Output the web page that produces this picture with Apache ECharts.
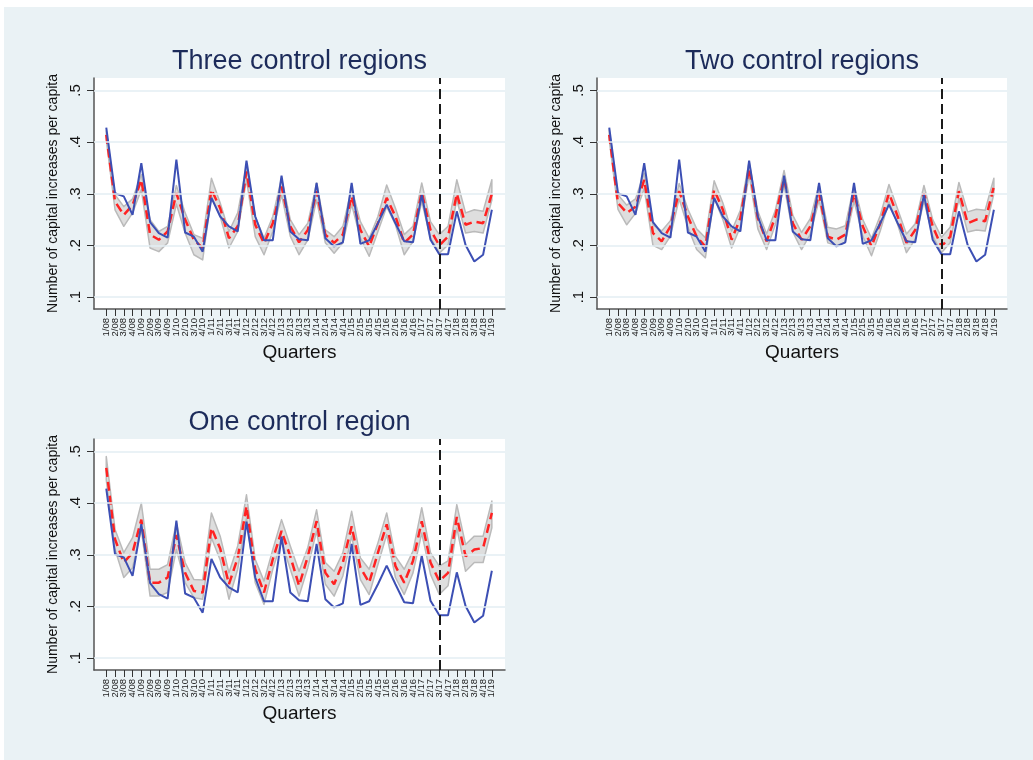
<!DOCTYPE html>
<html lang="en">
<head>
<meta charset="utf-8" />
<title>Capital increases per capita - synthetic control</title>
<style>
    html, body { margin: 0; padding: 0; background: #fff; }
    #bg { position: absolute; left: 4px; top: 7px; width: 1029px; height: 753px; background: #eaf2f5; }
    #main { position: absolute; left: 0; top: 0; width: 1033px; height: 760px; }
</style>
</head>
<body>
<div id="bg"></div>
<div id="main"></div>
<script src="https://cdn.jsdelivr.net/npm/echarts@6/dist/echarts.min.js"></script>
<script type="text/javascript">
    // quarter labels on the x axis
    var quarters = ['1/08','2/08','3/08','4/08','1/09','2/09','3/09','4/09','1/10','2/10','3/10','4/10',
        '1/11','2/11','3/11','4/11','1/12','2/12','3/12','4/12','1/13','2/13','3/13','4/13',
        '1/14','2/14','3/14','4/14','1/15','2/15','3/15','4/15','1/16','2/16','3/16','4/16',
        '1/17','2/17','3/17','4/17','1/18','2/18','3/18','4/18','1/19'];
    var yTicks = [0.1, 0.2, 0.3, 0.4, 0.5];
    var treatIndex = 38;   // 3/17

    // treated region (same in every panel)
    var actual = [0.428,0.301,0.295,0.259,0.359,0.245,0.224,0.215,0.366,0.225,0.217,0.188,0.292,0.256,0.237,0.227,
        0.364,0.256,0.210,0.210,0.335,0.227,0.212,0.210,0.321,0.214,0.198,0.206,0.321,0.203,0.210,0.243,
        0.279,0.243,0.208,0.206,0.298,0.211,0.183,0.183,0.266,0.201,0.169,0.182,0.269];

    // three control regions
    var synth3 = [0.414,0.285,0.259,0.278,0.327,0.221,0.211,0.227,0.301,0.250,0.211,0.195,0.308,0.272,0.214,0.237,
        0.343,0.240,0.204,0.243,0.314,0.237,0.206,0.230,0.305,0.221,0.205,0.221,0.295,0.230,0.198,0.243,
        0.292,0.256,0.205,0.221,0.303,0.230,0.200,0.217,0.300,0.240,0.246,0.243,0.300];
    var up3 = [0.422,0.298,0.275,0.290,0.337,0.250,0.227,0.237,0.316,0.263,0.221,0.214,0.330,0.282,0.227,0.263,
        0.355,0.256,0.214,0.256,0.330,0.250,0.221,0.243,0.321,0.230,0.217,0.237,0.311,0.246,0.214,0.256,
        0.317,0.272,0.221,0.237,0.321,0.246,0.221,0.237,0.327,0.263,0.269,0.266,0.327];
    var lo3 = [0.404,0.269,0.237,0.263,0.308,0.195,0.188,0.205,0.280,0.224,0.182,0.172,0.295,0.256,0.195,0.227,
        0.327,0.217,0.182,0.227,0.298,0.218,0.182,0.211,0.288,0.205,0.185,0.205,0.279,0.214,0.179,0.227,
        0.275,0.240,0.182,0.208,0.285,0.214,0.185,0.201,0.288,0.224,0.227,0.224,0.288];

    // two control regions
    var synth2 = [0.414,0.282,0.263,0.275,0.327,0.224,0.208,0.237,0.305,0.256,0.217,0.198,0.308,0.269,0.211,0.253,
        0.350,0.253,0.208,0.256,0.330,0.243,0.211,0.237,0.301,0.217,0.211,0.221,0.301,0.237,0.198,0.243,
        0.301,0.256,0.205,0.230,0.301,0.237,0.198,0.217,0.305,0.243,0.250,0.247,0.314];
    var up2 = [0.424,0.298,0.278,0.290,0.340,0.240,0.228,0.248,0.320,0.270,0.232,0.215,0.325,0.282,0.228,0.268,
        0.362,0.266,0.222,0.268,0.345,0.258,0.225,0.252,0.318,0.235,0.232,0.238,0.316,0.250,0.214,0.258,
        0.318,0.270,0.222,0.242,0.316,0.250,0.216,0.235,0.322,0.265,0.270,0.268,0.330];
    var lo2 = [0.404,0.270,0.240,0.262,0.310,0.200,0.192,0.218,0.290,0.235,0.192,0.176,0.292,0.250,0.195,0.236,
        0.336,0.232,0.192,0.240,0.316,0.226,0.192,0.222,0.288,0.205,0.200,0.206,0.286,0.218,0.180,0.228,
        0.285,0.240,0.186,0.212,0.286,0.218,0.186,0.205,0.290,0.226,0.230,0.228,0.300];

    // one control region
    var synth1 = [0.468,0.330,0.285,0.304,0.368,0.246,0.246,0.256,0.338,0.265,0.230,0.227,0.352,0.312,0.243,0.294,
        0.394,0.272,0.227,0.291,0.346,0.297,0.240,0.297,0.365,0.265,0.243,0.285,0.355,0.275,0.246,0.304,
        0.359,0.278,0.246,0.288,0.365,0.285,0.249,0.265,0.373,0.297,0.310,0.313,0.381];
    var up1 = [0.490,0.349,0.304,0.333,0.400,0.272,0.272,0.281,0.362,0.285,0.252,0.251,0.381,0.336,0.265,0.317,
        0.416,0.291,0.249,0.310,0.368,0.317,0.268,0.314,0.387,0.285,0.268,0.304,0.384,0.294,0.272,0.323,
        0.381,0.297,0.272,0.307,0.391,0.304,0.278,0.288,0.397,0.320,0.336,0.336,0.404];
    var lo1 = [0.445,0.310,0.256,0.275,0.349,0.220,0.220,0.227,0.310,0.246,0.217,0.214,0.333,0.290,0.214,0.272,
        0.371,0.246,0.204,0.272,0.326,0.272,0.220,0.275,0.346,0.243,0.220,0.259,0.336,0.252,0.223,0.281,
        0.339,0.256,0.223,0.265,0.342,0.262,0.223,0.240,0.352,0.268,0.285,0.285,0.352];

    var panels = [
        {title: 'Three control regions', left: 94, top: 78, width: 411, synth: synth3, up: up3, lo: lo3},
        {title: 'Two control regions', left: 597, top: 78, width: 410, synth: synth2, up: up2, lo: lo2},
        {title: 'One control region', left: 94, top: 439, width: 411, synth: synth1, up: up1, lo: lo1}
    ];
    var plotHeight = 231;

    var font = 'Liberation Sans, Arial, sans-serif';
    var axisColor = '#555';
    var xTicks = quarters.map(function (q, i) { return i; });
    // labels split over two axes so echarts does not drop neighbours of the end labels
    var xEven = xTicks.filter(function (i) { return i % 2 === 0; });
    var xOdd = xTicks.filter(function (i) { return i % 2 === 1; });

    function pairs(arr) {
        return arr.map(function (v, i) { return [i, v]; });
    }

    // confidence band as one polygon: upper edge forward, lower edge back
    function bandRenderer(up, lo) {
        return function (params, api) {
            var pts = [];
            for (var i = 0; i < up.length; i++) pts.push(api.coord([i, up[i]]));
            for (var j = lo.length - 1; j >= 0; j--) pts.push(api.coord([j, lo[j]]));
            return {
                type: 'polygon',
                shape: {points: pts},
                style: {fill: '#dedede', stroke: '#bababa', lineWidth: 1.5, lineJoin: 'round'}
            };
        };
    }

    function quarterLabel(values) {
        return {
            customValues: values, rotate: 90, fontSize: 9.5, margin: 9, color: '#222',
            showMinLabel: true, showMaxLabel: true, hideOverlap: false,
            formatter: function (v) { return quarters[v]; }
        };
    }

    var option = {
        animation: false,
        textStyle: {fontFamily: font, color: '#000'},
        title: [], grid: [], xAxis: [], yAxis: [], series: []
    };

    panels.forEach(function (p, k) {
        option.title.push({
            text: p.title, left: p.left + p.width / 2, top: p.top - 30, textAlign: 'center', padding: 0,
            textStyle: {fontFamily: font, fontSize: 27, fontWeight: 'normal', color: '#1c2b5a'}
        });
        option.grid.push({
            left: p.left, top: p.top, width: p.width, height: plotHeight,
            show: true, backgroundColor: '#fff', borderWidth: 0
        });
        // main x axis (index 2k): line, ticks, even labels, title
        option.xAxis.push({
            gridIndex: k, type: 'value', min: -1.4, max: 45.5, position: 'bottom',
            name: 'Quarters', nameLocation: 'middle', nameGap: 34,
            nameTextStyle: {fontFamily: font, fontSize: 19, color: '#111'},
            axisLine: {show: true, onZero: false, lineStyle: {color: axisColor, width: 1.5}},
            axisTick: {show: true, customValues: xTicks, length: 7, lineStyle: {color: '#333', width: 1}},
            axisLabel: quarterLabel(xEven),
            splitLine: {show: false}
        });
        // helper x axis (index 2k+1): odd labels only
        option.xAxis.push({
            gridIndex: k, type: 'value', min: -1.4, max: 45.5, position: 'bottom', offset: 0,
            axisLine: {show: false}, axisTick: {show: false},
            axisLabel: quarterLabel(xOdd),
            splitLine: {show: false}
        });
        option.yAxis.push({
            gridIndex: k, type: 'value', min: 0.077, max: 0.524,
            name: 'Number of capital increases per capita', nameLocation: 'middle', nameGap: 34,
            nameTextStyle: {fontFamily: font, fontSize: 14, color: '#111'},
            axisLine: {show: true, onZero: false, lineStyle: {color: axisColor, width: 1.5}},
            axisTick: {show: true, customValues: yTicks, length: 7, lineStyle: {color: '#333', width: 1}},
            axisLabel: {
                customValues: yTicks, rotate: 90, fontSize: 15, margin: 11, color: '#111',
                showMinLabel: true, showMaxLabel: true,
                formatter: function (v) { return v.toFixed(1).replace(/^0/, ''); }
            },
            splitLine: {show: false}
        });

        var xi = 2 * k;
        // invisible carrier for the light gridlines
        option.series.push({
            type: 'line', xAxisIndex: xi, yAxisIndex: k, z: 1,
            data: pairs(p.lo), showSymbol: false, silent: true,
            lineStyle: {opacity: 0},
            markLine: {
                silent: true, symbol: ['none', 'none'], label: {show: false},
                lineStyle: {color: '#e3eef3', width: 1.5, type: 'solid'},
                data: yTicks.map(function (t) { return {yAxis: t}; })
            }
        });
        // confidence band
        option.series.push({
            type: 'custom', xAxisIndex: xi, yAxisIndex: k, z: 2, silent: true,
            data: [[0, p.lo[0]]],
            renderItem: bandRenderer(p.up, p.lo)
        });
        // synthetic control
        option.series.push({
            type: 'line', xAxisIndex: xi, yAxisIndex: k, z: 3,
            data: pairs(p.synth), showSymbol: false,
            lineStyle: {color: '#ff2222', width: 2.5, type: [9, 5]}
        });
        // treated region
        option.series.push({
            type: 'line', xAxisIndex: xi, yAxisIndex: k, z: 4,
            data: pairs(actual), showSymbol: false,
            lineStyle: {color: '#3c4fb4', width: 2},
            markLine: {
                silent: true, symbol: ['none', 'none'], label: {show: false},
                lineStyle: {color: '#1a1a1a', width: 2, type: [10, 5]},
                data: [{xAxis: treatIndex}]
            }
        });
    });

    var chart = echarts.init(document.getElementById('main'), null, {renderer: 'canvas'});
    chart.setOption(option);
</script>
</body>
</html>
